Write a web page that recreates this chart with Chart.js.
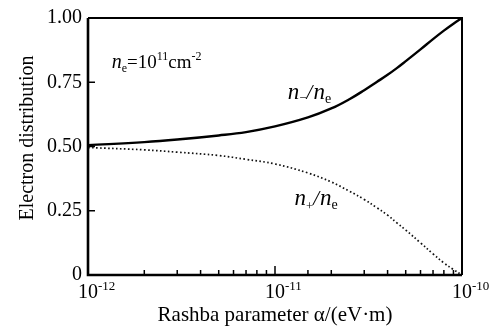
<!DOCTYPE html>
<html>
<head>
<meta charset="utf-8">
<title>Electron distribution vs Rashba parameter</title>
<script src="https://cdn.jsdelivr.net/npm/chart.js@4/dist/chart.umd.min.js"></script>
<style>
  html, body { margin: 0; padding: 0; background: #fff; }
  #wrap { width: 499px; height: 330px; }
</style>
</head>
<body>
<div id="wrap"><canvas id="chart" width="499" height="330"></canvas></div>
<script>
// Rashba parameter alpha (eV·m), sampled along the log axis
const alpha = [1e-12, 2e-12, 3e-12, 5e-12, 7e-12, 1e-11, 1.5e-11, 2e-11, 2.5e-11, 3e-11,
               3.5e-11, 4e-11, 4.5e-11, 5e-11, 6e-11, 7e-11, 8e-11, 9e-11, 1e-10];
// n-/ne (solid)
const nMinus = [0.505, 0.517, 0.527, 0.543, 0.556, 0.578, 0.613, 0.648, 0.684, 0.719,
                0.751, 0.779, 0.806, 0.832, 0.878, 0.918, 0.951, 0.978, 1.000];
// n+/ne (dotted)
const nPlus = [0.496, 0.487, 0.478, 0.465, 0.450, 0.432, 0.397, 0.362, 0.326, 0.294,
               0.262, 0.233, 0.202, 0.175, 0.125, 0.082, 0.047, 0.021, 0.000];
// axis labels
const yTickValues = [0, 0.25, 0.5, 0.75, 1.0];
const xExponents = ['-12', '-11', '-10'];
const yTitle = 'Electron distribution';

const SERIF = '"Liberation Serif", "Times New Roman", serif';

// draws a run of text pieces (italics, sub/superscripts) left to right
function drawRich(ctx, parts, x, y) {
  let cx = x;
  parts.forEach(p => {
    ctx.font = (p.italic ? 'italic ' : '') + p.size + 'px ' + SERIF;
    ctx.fillText(p.text, cx, y + (p.dy || 0));
    cx += ctx.measureText(p.text).width + (p.gap || 0);
  });
}

const frameAndLabels = {
  id: 'frameAndLabels',
  afterDatasetsDraw(chart) {
    const { ctx, chartArea: a, scales: { x, y } } = chart;
    ctx.save();
    ctx.strokeStyle = '#000';
    ctx.fillStyle = '#000';

    // plot frame: left and bottom heavier
    ctx.lineWidth = 2;
    ctx.beginPath();
    ctx.moveTo(a.left, a.top); ctx.lineTo(a.right, a.top); ctx.lineTo(a.right, a.bottom);
    ctx.stroke();
    ctx.lineWidth = 2.6;
    ctx.beginPath();
    ctx.moveTo(a.left, a.top); ctx.lineTo(a.left, a.bottom); ctx.lineTo(a.right, a.bottom);
    ctx.stroke();

    // inward tick marks
    ctx.lineWidth = 1.5;
    x.ticks.forEach(t => {
      if (t.value <= x.min || t.value >= x.max) return;
      const px = x.getPixelForValue(t.value);
      const major = Math.abs(Math.log10(t.value) - Math.round(Math.log10(t.value))) < 1e-6;
      ctx.beginPath();
      ctx.moveTo(px, a.bottom);
      ctx.lineTo(px, a.bottom - (major ? 9 : 5));
      ctx.stroke();
    });
    y.ticks.forEach(t => {
      if (t.value <= y.min || t.value >= y.max) return;
      const py = y.getPixelForValue(t.value);
      ctx.beginPath();
      ctx.moveTo(a.left, py);
      ctx.lineTo(a.left + 7, py);
      ctx.stroke();
    });

    // x tick labels: 10 with superscript exponent
    ctx.textBaseline = 'alphabetic';
    ctx.textAlign = 'left';
    xExponents.forEach(e => {
      const px = x.getPixelForValue(Math.pow(10, Number(e)));
      ctx.font = '20px ' + SERIF;
      const w = ctx.measureText('10').width;
      drawRich(ctx, [
        { text: '10', size: 20 },
        { text: e, size: 13, dy: -8 }
      ], px - w / 2, a.bottom + 23);
    });

    // y axis title, rotated
    ctx.save();
    ctx.translate(33, 138);
    ctx.rotate(-Math.PI / 2);
    ctx.textAlign = 'center';
    ctx.font = '20px ' + SERIF;
    ctx.fillText(yTitle, 0, 0);
    ctx.restore();

    // carrier density note
    drawRich(ctx, [
      { text: 'n', size: 20, italic: true },
      { text: 'e', size: 12, dy: 4 },
      { text: '=10', size: 19 },
      { text: '11', size: 12, dy: -8 },
      { text: 'cm', size: 19 },
      { text: '-2', size: 12, dy: -8 }
    ], x.getPixelForValue(1.34e-12), y.getPixelForValue(0.807));

    // curve labels
    drawRich(ctx, [
      { text: 'n', size: 23, italic: true },
      { text: '\u2212', size: 13, dy: 3 },
      { text: '/', size: 21, italic: true, gap: 1 },
      { text: 'n', size: 23, italic: true },
      { text: 'e', size: 14, dy: 4 }
    ], x.getPixelForValue(1.17e-11), y.getPixelForValue(0.686));

    drawRich(ctx, [
      { text: 'n', size: 23, italic: true },
      { text: '+', size: 13, dy: 5 },
      { text: '/', size: 21, italic: true, gap: 1 },
      { text: 'n', size: 23, italic: true },
      { text: 'e', size: 14, dy: 4 }
    ], x.getPixelForValue(1.27e-11), y.getPixelForValue(0.273));

    ctx.restore();
  }
};

const toPoints = vals => alpha.map((a, i) => ({ x: a, y: vals[i] }));

new Chart(document.getElementById('chart'), {
  type: 'line',
  data: {
    datasets: [
      {
        label: 'n-/ne',
        data: toPoints(nMinus),
        borderColor: '#000',
        borderWidth: 2.4,
        pointRadius: 0,
        tension: 0.4,
        fill: false
      },
      {
        label: 'n+/ne',
        data: toPoints(nPlus),
        borderColor: '#111',
        borderWidth: 1.7,
        borderDash: [1.6, 2.4],
        pointRadius: 0,
        tension: 0.4,
        fill: false
      }
    ]
  },
  options: {
    responsive: false,
    animation: false,
    layout: { padding: { top: 11, right: 37, left: 0, bottom: 0 } },
    plugins: {
      legend: { display: false },
      tooltip: { enabled: false }
    },
    scales: {
      x: {
        type: 'logarithmic',
        min: 1e-12,
        max: 1e-10,
        grid: { display: false, drawTicks: false },
        border: { display: false },
        ticks: { display: false },
        title: {
          display: true,
          text: 'Rashba parameter \u03B1/(eV\u00B7m)',
          color: '#000',
          font: { family: SERIF, size: 21 },
          padding: { top: 0, bottom: 2 }
        },
        afterFit: s => { s.height = 55; }
      },
      y: {
        min: 0,
        max: 1,
        afterBuildTicks: s => { s.ticks = yTickValues.map(v => ({ value: v })); },
        grid: { display: false, drawTicks: false },
        border: { display: false },
        ticks: {
          color: '#000',
          padding: 6,
          font: { family: SERIF, size: 20 },
          callback: v => (v === 0 ? '0' : v.toFixed(2))
        },
        afterFit: s => { s.width = 88; }
      }
    }
  },
  plugins: [frameAndLabels]
});
</script>
</body>
</html>
